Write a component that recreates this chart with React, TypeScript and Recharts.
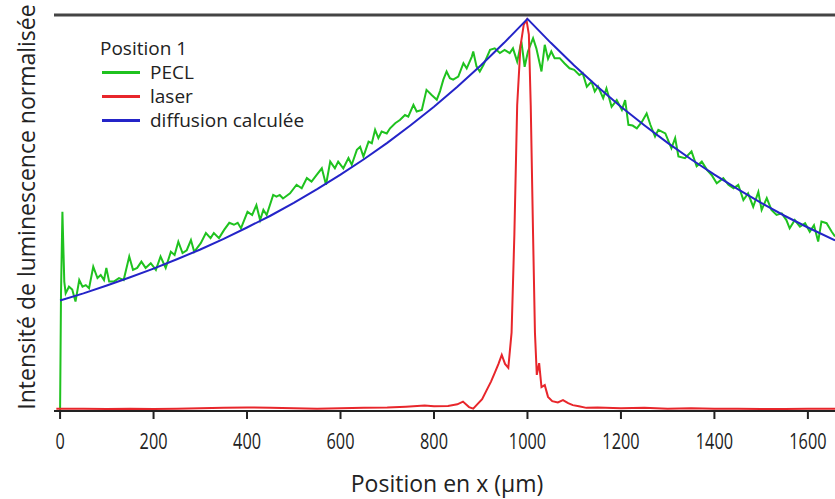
import { LineChart, Line, XAxis, YAxis, ReferenceLine } from "recharts";

// PECL (green) measured profile
const peclX = [0, 2, 5, 9, 12, 19, 26, 33, 41, 48, 55, 62, 71, 80, 87, 94, 99, 105, 115, 126, 136, 148, 156, 165, 174, 183, 194, 205, 215, 226, 237, 245, 253, 262, 271, 280, 287, 301, 312, 322, 329, 340, 351, 362, 372, 380, 387, 401, 411, 420, 428, 435, 442, 456, 463, 470, 477, 492, 506, 517, 528, 538, 549, 560, 569, 578, 588, 595, 606, 617, 624, 635, 642, 649, 660, 667, 674, 681, 688, 699, 706, 717, 727, 738, 745, 756, 763, 774, 784, 795, 806, 813, 820, 827, 834, 841, 852, 863, 870, 881, 884, 891, 898, 906, 920, 930, 941, 951, 962, 969, 978, 987, 994, 1001, 1012, 1019, 1030, 1037, 1044, 1051, 1058, 1069, 1079, 1090, 1100, 1111, 1118, 1127, 1137, 1144, 1151, 1162, 1169, 1180, 1191, 1202, 1209, 1216, 1225, 1234, 1245, 1255, 1263, 1273, 1280, 1295, 1308, 1316, 1323, 1337, 1351, 1362, 1373, 1384, 1394, 1405, 1419, 1430, 1441, 1451, 1462, 1472, 1483, 1494, 1501, 1512, 1522, 1533, 1544, 1554, 1561, 1572, 1583, 1594, 1604, 1613, 1622, 1629, 1640, 1651, 1658];
const peclV = [0.0, 0.3, 0.508, 0.33, 0.3, 0.317, 0.31, 0.279, 0.334, 0.317, 0.321, 0.313, 0.368, 0.339, 0.347, 0.334, 0.365, 0.33, 0.33, 0.339, 0.334, 0.394, 0.36, 0.365, 0.381, 0.365, 0.377, 0.36, 0.394, 0.365, 0.406, 0.398, 0.432, 0.403, 0.41, 0.436, 0.406, 0.428, 0.454, 0.441, 0.454, 0.441, 0.462, 0.48, 0.475, 0.48, 0.466, 0.508, 0.5, 0.525, 0.487, 0.513, 0.5, 0.551, 0.547, 0.551, 0.542, 0.555, 0.577, 0.568, 0.594, 0.585, 0.602, 0.619, 0.577, 0.636, 0.619, 0.636, 0.619, 0.645, 0.628, 0.666, 0.674, 0.649, 0.687, 0.683, 0.717, 0.696, 0.713, 0.708, 0.721, 0.734, 0.742, 0.755, 0.751, 0.781, 0.764, 0.768, 0.819, 0.806, 0.794, 0.816, 0.845, 0.866, 0.849, 0.845, 0.853, 0.887, 0.874, 0.904, 0.917, 0.879, 0.866, 0.883, 0.921, 0.925, 0.913, 0.921, 0.913, 0.925, 0.891, 0.942, 0.878, 0.917, 0.951, 0.925, 0.866, 0.934, 0.898, 0.917, 0.9, 0.9, 0.887, 0.874, 0.87, 0.857, 0.862, 0.827, 0.84, 0.815, 0.828, 0.798, 0.823, 0.776, 0.793, 0.768, 0.793, 0.73, 0.728, 0.721, 0.738, 0.759, 0.73, 0.7, 0.717, 0.708, 0.67, 0.696, 0.649, 0.645, 0.662, 0.624, 0.636, 0.615, 0.602, 0.581, 0.594, 0.577, 0.568, 0.577, 0.538, 0.555, 0.521, 0.559, 0.513, 0.543, 0.513, 0.5, 0.504, 0.487, 0.466, 0.487, 0.47, 0.479, 0.457, 0.474, 0.432, 0.483, 0.479, 0.457, 0.445];

// laser (red) spot profile
const laserX = [-8, 50, 100, 150, 200, 250, 300, 350, 400, 450, 500, 550, 600, 650, 700, 740, 780, 800, 830, 850, 862, 875, 884, 891, 903, 913, 922, 930, 938, 945, 952, 959, 966, 972, 978, 985, 992, 998, 1003, 1007, 1012, 1016, 1020, 1025, 1030, 1037, 1044, 1053, 1065, 1076, 1087, 1097, 1110, 1126, 1150, 1200, 1250, 1300, 1350, 1400, 1450, 1500, 1550, 1600, 1658];
const laserV = [0.006, 0.006, 0.005, 0.006, 0.005, 0.006, 0.007, 0.008, 0.009, 0.008, 0.007, 0.006, 0.007, 0.008, 0.009, 0.011, 0.014, 0.012, 0.013, 0.017, 0.024, 0.01, 0.006, 0.015, 0.03, 0.054, 0.075, 0.097, 0.12, 0.143, 0.12, 0.11, 0.2, 0.45, 0.78, 0.93, 0.985, 0.997, 0.96, 0.78, 0.45, 0.2, 0.092, 0.122, 0.061, 0.066, 0.036, 0.025, 0.022, 0.028, 0.02, 0.015, 0.012, 0.008, 0.009, 0.007, 0.008, 0.006, 0.007, 0.006, 0.006, 0.005, 0.005, 0.006, 0.006];

// calculated diffusion (blue)
const diffX = [0, 50, 100, 150, 200, 250, 300, 350, 400, 450, 500, 550, 600, 650, 700, 750, 800, 850, 900, 950, 1000, 1050, 1100, 1150, 1200, 1250, 1300, 1350, 1400, 1450, 1500, 1550, 1600, 1658];
const diffV = [0.282, 0.3, 0.32, 0.341, 0.363, 0.387, 0.412, 0.439, 0.468, 0.498, 0.531, 0.566, 0.603, 0.642, 0.684, 0.729, 0.776, 0.827, 0.881, 0.939, 1.0, 0.939, 0.881, 0.827, 0.776, 0.729, 0.684, 0.642, 0.603, 0.566, 0.531, 0.498, 0.468, 0.435];

const xTicks = [0, 200, 400, 600, 800, 1000, 1200, 1400, 1600];

const GREEN = "#1fc21f";
const RED = "#e8262b";
const BLUE = "#2424c8";
const FONT = "'Open Sans', sans-serif";

const zip = (xs: number[], vs: number[]) => xs.map((x, i) => ({ x, v: vs[i] }));

const series = [
  { name: "PECL", color: GREEN, data: zip(peclX, peclV) },
  { name: "laser", color: RED, data: zip(laserX, laserV) },
  { name: "diffusion calculée", color: BLUE, data: zip(diffX, diffV) },
];

const XTick = ({ x, y, payload }: any) => {
  const s = String(payload.value);
  return (
    <text
      x={x}
      y={y}
      dy={28}
      textAnchor="middle"
      fontFamily={FONT}
      fontSize={22}
      fill="#222"
      textLength={s.length * 9.3}
      lengthAdjust="spacingAndGlyphs"
    >
      {s}
    </text>
  );
};

function App() {
  return (
    <div style={{ position: "absolute", left: 0, top: 0, width: 835, height: 499, background: "#fff", overflow: "hidden" }}>
      <LineChart width={835} height={499} margin={{ top: 15, right: 0, left: 54, bottom: 58 }}>
        <XAxis
          type="number"
          dataKey="x"
          domain={[-13, 1658]}
          allowDataOverflow
          ticks={xTicks}
          height={30}
          tickSize={8}
          tick={<XTick />}
          axisLine={{ stroke: "#222", strokeWidth: 2 }}
          tickLine={{ stroke: "#222", strokeWidth: 2 }}
        />
        <YAxis
          type="number"
          domain={[0, 1.01]}
          allowDataOverflow
          width={0}
          tick={false}
          tickLine={false}
          axisLine={{ stroke: "#222", strokeWidth: 2 }}
        />
        <ReferenceLine y={1.01} stroke="#444" strokeWidth={3} />
        {series.map((s) => (
          <Line
            key={s.name}
            name={s.name}
            data={s.data}
            dataKey="v"
            type="linear"
            stroke={s.color}
            strokeWidth={2}
            dot={false}
            isAnimationActive={false}
          />
        ))}
      </LineChart>

      <div style={{ position: "absolute", left: 100, top: 36, fontFamily: FONT, fontSize: 19, color: "#222", lineHeight: "24px" }}>
        <div>Position 1</div>
        {series.map((s) => (
          <div key={s.name} style={{ display: "flex", alignItems: "center" }}>
            <span style={{ display: "inline-block", width: 38, height: 0, borderTop: `3px solid ${s.color}`, marginLeft: 2, marginRight: 10 }} />
            {s.name}
          </div>
        ))}
      </div>

      <div
        style={{
          position: "absolute",
          left: 26,
          top: 207,
          transform: "translate(-50%, -50%) rotate(-90deg)",
          whiteSpace: "nowrap",
          fontFamily: FONT,
          fontSize: 23,
          lineHeight: "26px",
          color: "#222",
        }}
      >
        Intensité de luminescence normalisée
      </div>

      <div
        style={{
          position: "absolute",
          left: 447,
          top: 483,
          transform: "translate(-50%, -50%)",
          whiteSpace: "nowrap",
          fontFamily: FONT,
          fontSize: 23,
          lineHeight: "26px",
          color: "#222",
        }}
      >
        Position en x (µm)
      </div>
    </div>
  );
}

export default App;
